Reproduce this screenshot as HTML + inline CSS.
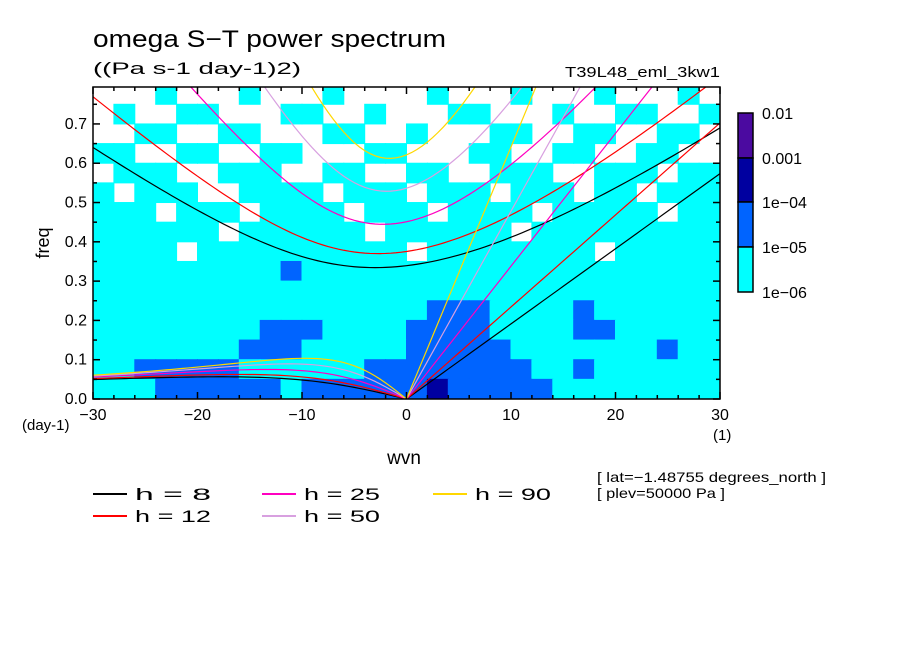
<!DOCTYPE html>
<html><head><meta charset="utf-8"><style>
body{margin:0;background:#fff;}
svg{display:block;font-family:"Liberation Sans",sans-serif;}
</style></head><body>
<svg id="chart" width="904" height="654" viewBox="0 0 904 654">
<text x="93" y="47" font-size="24" textLength="353" lengthAdjust="spacingAndGlyphs">omega S−T power spectrum</text>
<text x="93" y="74" font-size="17" textLength="208" lengthAdjust="spacingAndGlyphs">((Pa s-1 day-1)2)</text>
<text x="565" y="77" font-size="15" textLength="155" lengthAdjust="spacingAndGlyphs">T39L48_eml_3kw1</text>
<g id="plot"></g>
<text transform="translate(49,243) rotate(-90)" font-size="18" text-anchor="middle">freq</text>
<text x="404" y="464" font-size="19" text-anchor="middle">wvn</text>
<text x="22" y="430" font-size="15">(day-1)</text>
<text x="713" y="440" font-size="15">(1)</text>
<g id="cbar"></g>
<g id="legend"></g>
<text x="597" y="482" font-size="14" textLength="229" lengthAdjust="spacingAndGlyphs">[ lat=−1.48755 degrees_north ]</text>
<text x="597" y="498" font-size="14" textLength="128" lengthAdjust="spacingAndGlyphs">[ plev=50000 Pa ]</text>
</svg>
<script>
const NS="http://www.w3.org/2000/svg";
const depths=[8,12,25,50,90];
const depthColors=["#000000","#ff0000","#ff00c0","#d8a0e0","#ffd700"];
const xTicks=[-30,-20,-10,0,10,20,30];
const yTicks=[0,0.1,0.2,0.3,0.4,0.5,0.6,0.7];
const levelLabels=["0.01","0.001","1e-04","1e-05","1e-06"];
const levelColors=["#ffffff","#00ffff","#0064ff","#0000a0","#4b0aa0"];
// power level grid: rows from top (0.79) to bottom, cols wvn -30..30 step 2
const gridRows=[
"000100010001000010001000100010",
"010011000110010001100010011001",
"001100110001100100011001100110",
"110011001100011000110011001100",
"011100111001100110011100111011",
"101110011110111011101110110111",
"111011101111011101111011111011",
"111111011111101111110111111111",
"111101111111111011111111011111",
"111111111211111111111111111111",
"111111111111111111111111111111",
"111111111111111122211112111111",
"111111112221111222211112211111",
"111111122211111222221111111211",
"112222211111122222222112111111",
"111222222122222232222211111111"];
const rowBottoms=[0.75,0.70,0.65,0.60,0.55,0.50,0.45,0.40,0.35,0.30,0.25,0.20,0.15,0.10,0.05,0.00];
const X0=93,X1=720,Y0=399,YT=87,FMAX=0.794;
const xs=k=>X0+(k+30)/60*(X1-X0);
const ys=f=>Y0-f/FMAX*(Y0-YT);
function mk(tag,attrs,parent){const e=document.createElementNS(NS,tag);for(const a in attrs)e.setAttribute(a,attrs[a]);parent.appendChild(e);return e;}
const plot=document.getElementById('plot');
const defs=mk('defs',{},plot);
const cp=mk('clipPath',{id:'cp'},defs);mk('rect',{x:X0,y:YT,width:X1-X0,height:Y0-YT},cp);
const cells=mk('g',{'clip-path':'url(#cp)'},plot);


gridRows.forEach((row,ri)=>{
  const fb=rowBottoms[ri], ft=ri===0?FMAX:rowBottoms[ri-1];
  for(let c=0;c<row.length;c++){
    const lv=+row[c]; if(!lv) continue;
    const k0=-30+c*2;
    const r=mk('rect',{x:xs(k0)-0.5,y:ys(ft)-0.5,width:xs(k0+2)-xs(k0)+1,height:ys(fb)-ys(ft)+1,fill:levelColors[lv]},cells);
    
    
  }
});
// dispersion curves
const g=9.81,beta=2.29e-11,a=6.371e6,toCpd=86400/(2*Math.PI);
const curves=mk('g',{'clip-path':'url(#cp)',fill:'none','stroke-width':1.2},plot);
depths.forEach((h,i)=>{
  const c=Math.sqrt(g*h);const col=depthColors[i];
  let pk=[],pig=[],per=[];
  for(let s=0;s<=30;s+=0.5){pk.push([xs(s),ys(s/a*c*toCpd)]);}
  for(let s=-30;s<=30;s+=0.5){const k=s/a;let w=Math.sqrt(3*beta*c);
    for(let it=0;it<40;it++){w=Math.sqrt(3*beta*c+c*c*k*k+c*c*beta*k/w);}
    pig.push([xs(s),ys(w*toCpd)]);}
  for(let s=-30;s<=0;s+=0.5){const k=s/a;const w=-beta*k/(k*k+3*beta/c);per.push([xs(s),ys(w*toCpd)]);}
  [[pk,'kelvin'],[pig,'inertia-gravity'],[per,'rossby']].forEach(([p,n])=>{
    const e=mk('polyline',{points:p.map(q=>q.join(',')).join(' '),stroke:col},curves);
    
    
  });
});
// frame + ticks
const ax=mk('g',{stroke:'#000','stroke-width':1.5,fill:'none'},plot);
mk('rect',{x:X0,y:YT,width:X1-X0,height:Y0-YT},ax);
for(let k=-30;k<=30;k+=2){const L=k%10===0?7:4;
  mk('line',{x1:xs(k),x2:xs(k),y1:Y0,y2:Y0-L},ax);mk('line',{x1:xs(k),x2:xs(k),y1:YT,y2:YT+L},ax);}
for(let f=0;f<=0.76;f+=0.05){const L=Math.round(f*100)%10===0?7:4;
  mk('line',{x1:X0,x2:X0+L,y1:ys(f),y2:ys(f)},ax);mk('line',{x1:X1,x2:X1-L,y1:ys(f),y2:ys(f)},ax);}
xTicks.forEach(k=>{const t=mk('text',{x:xs(k),y:Y0+21,'font-size':16,'text-anchor':'middle'},plot);t.textContent=String(k).replace('-','−');
  });
yTicks.forEach(f=>{const t=mk('text',{x:X0-6,y:ys(f)+5,'font-size':16,'text-anchor':'end'},plot);t.textContent=f.toFixed(1);
  });
// colorbar
const cb=document.getElementById('cbar');
const cbY=[113,158,202,247,292];
for(let i=0;i<4;i++){const r=mk('rect',{x:738,y:cbY[i],width:15,height:cbY[i+1]-cbY[i],fill:levelColors[4-i],stroke:'#000','stroke-width':1.5},cb);
  }
levelLabels.forEach((l,i)=>{const t=mk('text',{x:762,y:cbY[i]+6,'font-size':16},cb);t.textContent=l.replace('-','−');
  });
// legend
const lg=document.getElementById('legend');
const lpos=[[93,494],[93,516],[262,494],[262,516],[433,494]];
depths.forEach((h,i)=>{const [x,y]=lpos[i];
  const ln=mk('line',{x1:x,x2:x+34,y1:y,y2:y,stroke:depthColors[i],'stroke-width':2},lg);
  
  const t=mk('text',{x:x+42,y:y+6,'font-size':17,'textLength':76,'lengthAdjust':'spacingAndGlyphs','xml:space':'preserve'},lg);t.textContent='h = '+(h<10?' ':'')+h;
  });
</script>
</body></html>
